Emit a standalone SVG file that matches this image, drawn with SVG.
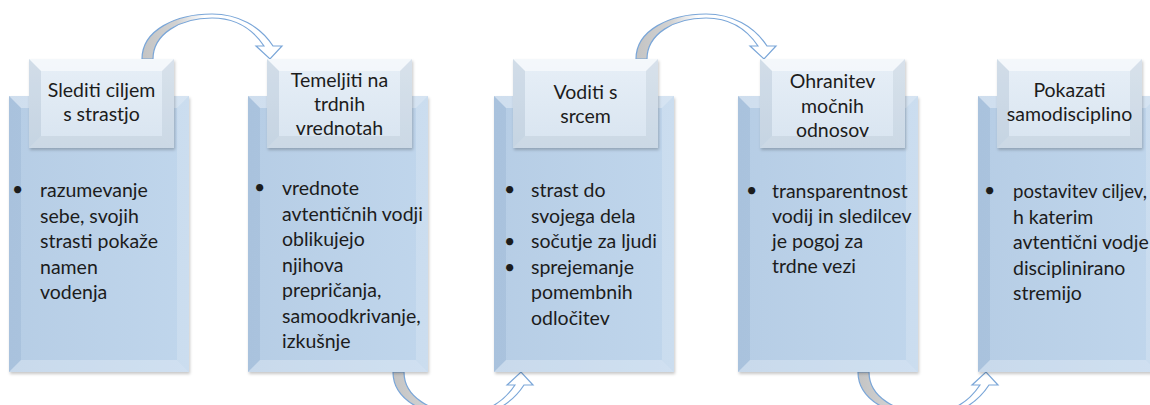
<svg xmlns="http://www.w3.org/2000/svg" xmlns:xlink="http://www.w3.org/1999/xlink" width="1150" height="405" viewBox="0 0 1150 405">
<style>
.hd{font-family:Lato,"Liberation Sans",sans-serif;font-size:19.5px;fill:#1c1c1c;text-anchor:middle}
.bd{font-family:Lato,"Liberation Sans",sans-serif;font-size:19.5px;fill:#1c1c1c}
.arrow{stroke:#7aa6d8;stroke-width:1.2;fill:url(#arrowFill)}
</style>
<defs>
<linearGradient id="tallFill" x1="0" y1="0" x2="1" y2="0">
<stop offset="0" stop-color="#b6cde5"/>
<stop offset="1" stop-color="#c0d6ec"/>
</linearGradient>
<linearGradient id="headFill" x1="0" y1="0" x2="0" y2="1">
<stop offset="0" stop-color="#e7eff7"/>
<stop offset="1" stop-color="#d8e4f0"/>
</linearGradient>
<linearGradient id="arrowFill" x1="0" y1="0" x2="1" y2="0">
<stop offset="0" stop-color="#c4c4c4"/>
<stop offset="0.25" stop-color="#d2d2d2"/>
<stop offset="0.45" stop-color="#ffffff"/>
<stop offset="1" stop-color="#ffffff"/>
</linearGradient>
<filter id="sh" x="-10%" y="-10%" width="120%" height="120%">
<feDropShadow dx="1" dy="2" stdDeviation="1.5" flood-color="#000" flood-opacity="0.22"/>
</filter>
<g id="tall">
<rect x="0" y="0" width="180" height="276" fill="url(#tallFill)" filter="url(#sh)"/>
<polygon points="0,0 180,0 168,12 12,12" fill="#ffffff" fill-opacity="0.35"/>
<polygon points="0,0 12,12 12,264 0,276" fill="#4f77a3" fill-opacity="0.12"/>
<polygon points="180,0 180,276 168,264 168,12" fill="#ffffff" fill-opacity="0.18"/>
<polygon points="0,276 180,276 168,264 12,264" fill="#ffffff" fill-opacity="0.25"/>
</g>
<g id="head">
<rect x="0" y="0" width="145" height="89" fill="url(#headFill)" filter="url(#sh)"/>
<polygon points="0,0 145,0 133,12 12,12" fill="#ffffff" fill-opacity="0.55"/>
<polygon points="0,0 12,12 12,77 0,89" fill="#7f95ad" fill-opacity="0.2"/>
<polygon points="145,0 145,89 133,77 133,12" fill="#8a9bb0" fill-opacity="0.16"/>
<polygon points="0,89 145,89 133,77 12,77" fill="#9aa8b8" fill-opacity="0.2"/>
</g>
<path id="arr" d="M142,59 C142,30 176,14 212,14 C238,14 260,26 273,46 L282,46 L270,59 L256,46 L264,46 C252,28 236,18 212,18 C180,18 153,34 153,59 Z"/>
</defs>

<g id="connectors">
<use xlink:href="#arr" href="#arr" class="arrow"/>
<use xlink:href="#arr" href="#arr" class="arrow" transform="translate(494,0)"/>
<use xlink:href="#arr" href="#arr" class="arrow" transform="translate(251,431) scale(1,-1)"/>
<use xlink:href="#arr" href="#arr" class="arrow" transform="translate(716,431) scale(1,-1)"/>
</g>

<g id="node1">
<use xlink:href="#tall" href="#tall" x="9" y="96"/>
<use xlink:href="#head" href="#head" x="29" y="59"/>
<text class="hd" x="101.5" y="97">Slediti ciljem</text>
<text class="hd" x="101.5" y="121">s strastjo</text>
<text class="bd" x="12" y="196">•</text>
<text class="bd"><tspan x="40" y="197">razumevanje</tspan><tspan x="40" y="222.5">sebe, svojih</tspan><tspan x="40" y="248">strasti pokaže</tspan><tspan x="40" y="273.5">namen</tspan><tspan x="40" y="299">vodenja</tspan></text>
</g>

<g id="node2">
<use xlink:href="#tall" href="#tall" x="248" y="96"/>
<use xlink:href="#head" href="#head" x="267" y="59"/>
<text class="hd" x="339.5" y="87">Temeljiti na</text>
<text class="hd" x="339.5" y="111">trdnih</text>
<text class="hd" x="339.5" y="135">vrednotah</text>
<text class="bd" x="254" y="194">•</text>
<text class="bd"><tspan x="282" y="195">vrednote</tspan><tspan x="282" y="220.5">avtentičnih vodji</tspan><tspan x="282" y="246">oblikujejo</tspan><tspan x="282" y="271.5">njihova</tspan><tspan x="282" y="297">prepričanja,</tspan><tspan x="282" y="322.5">samoodkrivanje,</tspan><tspan x="282" y="348">izkušnje</tspan></text>
</g>

<g id="node3">
<use xlink:href="#tall" href="#tall" x="494" y="96"/>
<use xlink:href="#head" href="#head" x="513" y="59"/>
<text class="hd" x="585.5" y="99">Voditi s</text>
<text class="hd" x="585.5" y="123">srcem</text>
<text class="bd"><tspan x="504" y="196">•</tspan><tspan x="504" y="248">•</tspan><tspan x="504" y="273.5">•</tspan></text>
<text class="bd"><tspan x="531" y="197">strast do</tspan><tspan x="531" y="222.5">svojega dela</tspan><tspan x="531" y="248">sočutje za ljudi</tspan><tspan x="531" y="273.5">sprejemanje</tspan><tspan x="531" y="299">pomembnih</tspan><tspan x="531" y="324.5">odločitev</tspan></text>
</g>

<g id="node4">
<use xlink:href="#tall" href="#tall" x="738" y="96"/>
<use xlink:href="#head" href="#head" x="760" y="59"/>
<text class="hd" x="832.5" y="88">Ohranitev</text>
<text class="hd" x="832.5" y="112.5">močnih</text>
<text class="hd" x="832.5" y="137">odnosov</text>
<text class="bd" x="746" y="197">•</text>
<text class="bd"><tspan x="772" y="198">transparentnost</tspan><tspan x="772" y="223">vodij in sledilcev</tspan><tspan x="772" y="248">je pogoj za</tspan><tspan x="772" y="273">trdne vezi</tspan></text>
</g>

<g id="node5">
<use xlink:href="#tall" href="#tall" x="978" y="96"/>
<use xlink:href="#head" href="#head" x="997" y="59"/>
<text class="hd" x="1069.5" y="97">Pokazati</text>
<text class="hd" x="1069.5" y="121">samodisciplino</text>
<text class="bd" x="984" y="197">•</text>
<text class="bd" x="1013" y="198" textLength="134" lengthAdjust="spacingAndGlyphs">postavitev ciljev,</text>
<text class="bd"><tspan x="1013" y="223.5">h katerim</tspan><tspan x="1013" y="249">avtentični vodje</tspan><tspan x="1013" y="274.5">disciplinirano</tspan><tspan x="1013" y="300">stremijo</tspan></text>
</g>
</svg>
